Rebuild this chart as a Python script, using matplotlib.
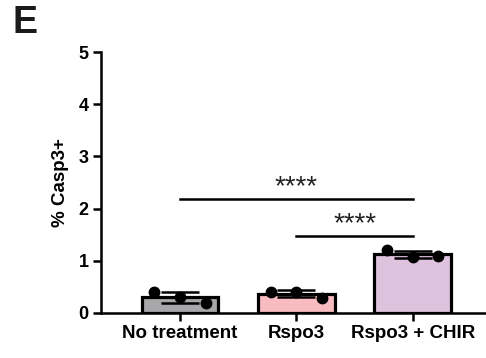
import numpy as np
import matplotlib
matplotlib.use("Agg")
import matplotlib.pyplot as plt

plt.rcParams['font.family'] = ['Liberation Sans', 'DejaVu Sans']
plt.rcParams['font.weight'] = 'bold'

categories = ["No treatment", "Rspo3", "Rspo3 + CHIR"]
replicates = [
    [0.41, 0.30, 0.20],
    [0.41, 0.40, 0.29],
    [1.20, 1.08, 1.09],
]
bar_colors = ["#a7a7aa", "#f8bcc0", "#dfc3de"]
y_ticks = [0, 1, 2, 3, 4, 5]
comparisons = [(0, 2, 2.18, "****"), (1, 2, 1.47, "****")]

means = [np.mean(r) for r in replicates]
sds = [np.std(r, ddof=1) for r in replicates]

fig = plt.figure(figsize=(4.86, 3.58), dpi=100)
ax = fig.add_axes([0.2078, 0.1257, 0.7922, 0.729])

x = np.arange(len(categories))
ax.bar(x, means, width=0.66, color=bar_colors, edgecolor="black", linewidth=2.3, zorder=2)
ax.errorbar(x, means, yerr=sds, fmt="none", ecolor="black", elinewidth=1.8,
            capsize=13.5, capthick=1.8, zorder=3)
offsets = [-0.22, 0.0, 0.22]
for i, vals in enumerate(replicates):
    ax.plot(x[i] + np.array(offsets), vals, "o", color="black", markersize=7.5,
            zorder=4, clip_on=False)

for a, b, h, label in comparisons:
    ax.plot([x[a], x[b]], [h, h], color="black", linewidth=1.8, zorder=3)
    ax.annotate(label, xy=((x[a] + x[b]) / 2, h), xytext=(0, -1),
                textcoords="offset points", ha="center", va="bottom",
                fontsize=20, fontweight="normal", color="#222222")

ax.set_xlim(-0.68, 2.63)
ax.set_ylim(0, 5)
ax.set_yticks(y_ticks)
ax.set_yticklabels([str(t) for t in y_ticks], fontsize=13, fontweight="bold")
ax.set_xticks(x)
ax.set_xticklabels(categories, fontsize=13.5, fontweight="bold")
ax.set_ylabel("% Casp3+", fontsize=13.5, fontweight="bold", labelpad=7)

for side in ["top", "right"]:
    ax.spines[side].set_visible(False)
for side in ["left", "bottom"]:
    ax.spines[side].set_linewidth(1.8)
ax.tick_params(axis="both", width=1.8, length=6, direction="out", pad=3)

fig.text(0.025, 0.985, "E", fontsize=27, fontweight="bold", ha="left", va="top",
         color="#1a1a1a")

fig.savefig("out.png", dpi=100)
